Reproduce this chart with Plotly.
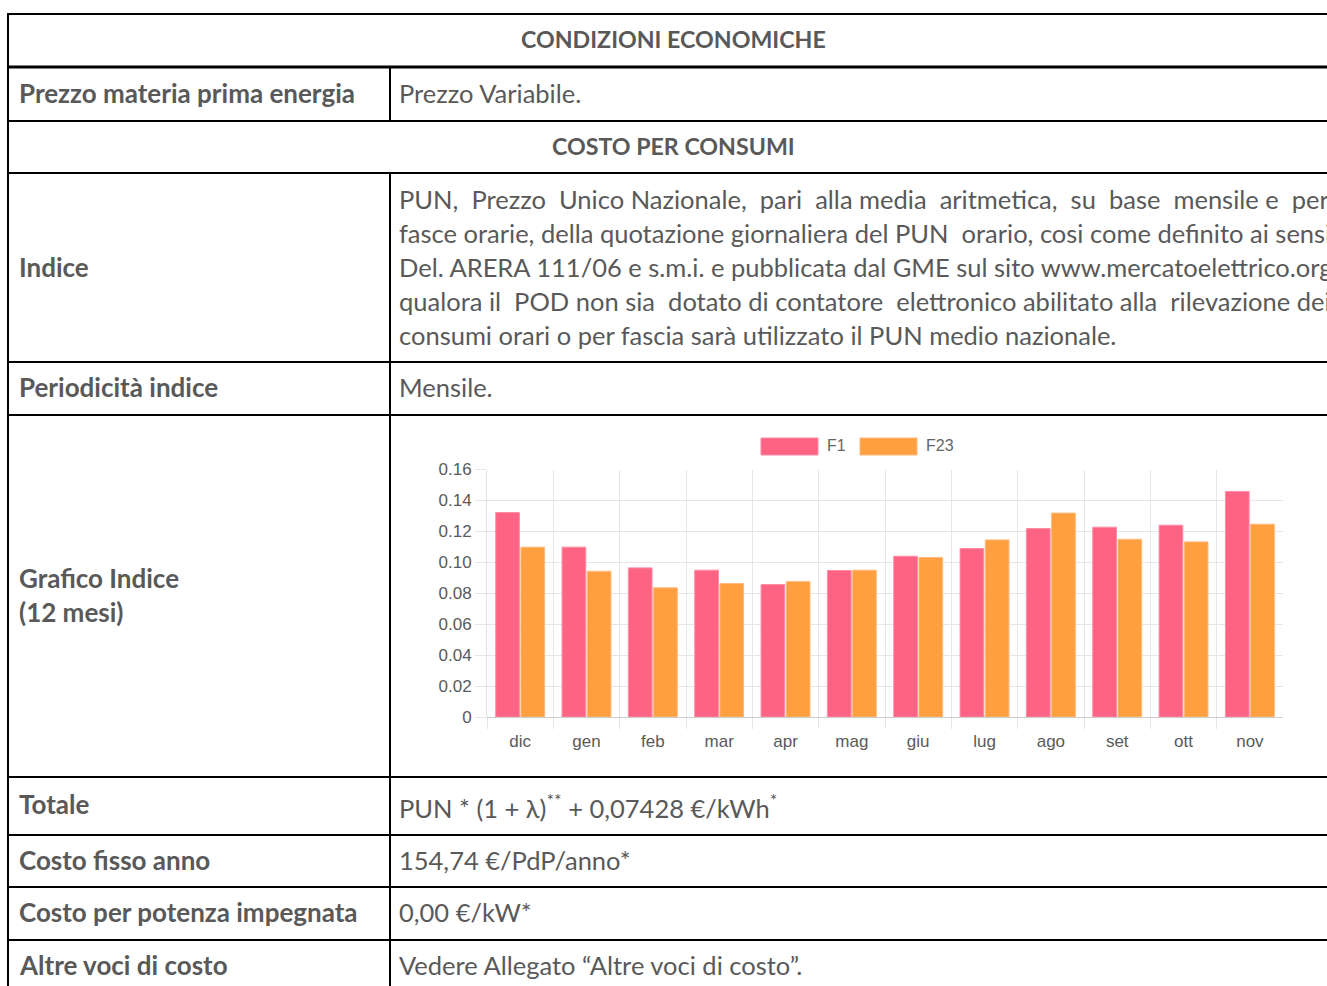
import plotly.graph_objects as go

# ---------------- data ----------------
months = ["dic", "gen", "feb", "mar", "apr", "mag", "giu", "lug", "ago", "set", "ott", "nov"]
f1 = [0.1322, 0.1098, 0.0964, 0.0949, 0.0856, 0.0947, 0.1039, 0.1089, 0.1218, 0.1227, 0.1240, 0.1458]
f23 = [0.1098, 0.0942, 0.0835, 0.0863, 0.0875, 0.0949, 0.1031, 0.1145, 0.1318, 0.1149, 0.1132, 0.1246]
y_tick_values = [0, 0.02, 0.04, 0.06, 0.08, 0.10, 0.12, 0.14, 0.16]
y_tick_labels = ["0", "0.02", "0.04", "0.06", "0.08", "0.10", "0.12", "0.14", "0.16"]
series_names = ["F1", "F23"]

indice_lines = [
    "PUN, Prezzo Unico Nazionale, pari alla media aritmetica, su base mensile e per",
    "fasce orarie, della quotazione giornaliera del PUN orario, cosi come definito ai sensi",
    "Del. ARERA 111/06 e s.m.i. e pubblicata dal GME sul sito www.mercatoelettrico.org;",
    "qualora il POD non sia dotato di contatore elettronico abilitato alla rilevazione dei",
    "consumi orari o per fascia sarà utilizzato il PUN medio nazionale.",
]
# extra non-breaking spaces used to imitate justified text
justify_extra = [9, 1, 0, 4, 0]

# ---------------- layout helpers ----------------
W, H = 1327, 986
def px(x):
    return x / W
def py(y):
    return 1 - y / H

PINK = "rgb(255,99,132)"
ORANGE = "rgb(255,159,64)"
TXT = "#595959"
TFONT = "Lato"
TSIZE = 25.5
BSIZE = 26
HSIZE = 23.2
CFONT = "Liberation Sans"
CCOL = "#5a5a5a"

def justify(line, extra):
    words = line.split(" ")
    gaps = len(words) - 1
    if gaps <= 0 or extra <= 0:
        return line
    out = words[0]
    prev = 0
    for i, w in enumerate(words[1:], start=1):
        target = round(extra * i / gaps)
        n = target - prev
        prev = target
        out += " " + "\u00a0" * n + w
    return out

fig = go.Figure()
fig.add_trace(go.Bar(x=months, y=f1, name=series_names[0],
                     marker=dict(color=PINK, line=dict(color="rgba(255,140,165,1)", width=1))))
fig.add_trace(go.Bar(x=months, y=f23, name=series_names[1],
                     marker=dict(color=ORANGE, line=dict(color="rgba(255,185,120,1)", width=1))))

shapes = []
def hline(y, x0=8, x1=1345, w=2):
    shapes.append(dict(type="line", xref="paper", yref="paper", x0=px(x0), x1=px(x1), y0=py(y), y1=py(y),
                       line=dict(color="black", width=w)))
def vline(x, y0, y1, w=2):
    shapes.append(dict(type="line", xref="paper", yref="paper", x0=px(x), x1=px(x), y0=py(y0), y1=py(y1),
                       line=dict(color="black", width=w)))

hline(14)
hline(67, w=3)
for yy in [121, 173, 362, 415, 777, 835, 887, 940]:
    hline(yy)
vline(8, 13, 1000)
vline(390, 67, 121)
vline(390, 173, 1000)

# custom legend swatches (Chart.js style)
shapes.append(dict(type="rect", xref="paper", yref="paper", x0=px(761), x1=px(818), y0=py(455), y1=py(438),
                   fillcolor=PINK, line=dict(color="rgba(255,140,165,1)", width=1)))
shapes.append(dict(type="rect", xref="paper", yref="paper", x0=px(860), x1=px(917), y0=py(455), y1=py(438),
                   fillcolor=ORANGE, line=dict(color="rgba(255,185,120,1)", width=1)))

annotations = []
def txt(x, y, s, bold=False, anchor="left", size=None, color=TXT, font=TFONT):
    if size is None:
        size = BSIZE if bold else TSIZE
    if bold:
        s = "<b>" + s + "</b>"
    annotations.append(dict(xref="paper", yref="paper", x=px(x), y=py(y), text=s, showarrow=False,
                            xanchor=anchor, yanchor="middle", font=dict(family=font, size=size, color=color)))

LX, RX = 17, 397
txt(673, 39, "CONDIZIONI ECONOMICHE", bold=True, anchor="center", size=HSIZE)
txt(LX, 93, "Prezzo materia prima energia", bold=True)
txt(RX, 93, "Prezzo Variabile.")
txt(673, 146, "COSTO PER CONSUMI", bold=True, anchor="center", size=HSIZE)
txt(LX, 267, "Indice", bold=True)
for i, line in enumerate(indice_lines):
    txt(RX, 199 + 34 * i, justify(line, justify_extra[i]))
txt(LX, 387, "Periodicità indice", bold=True)
txt(RX, 387, "Mensile.")
txt(LX, 578, "Grafico Indice", bold=True)
txt(LX, 612, "(12 mesi)", bold=True)
txt(LX, 804, "Totale", bold=True)
txt(RX, 806, "PUN * (1 + λ)<sup>**</sup> + 0,07428 €/kWh<sup>*</sup>")
txt(LX, 860, "Costo fisso anno", bold=True)
txt(RX, 860, "154,74 €/PdP/anno*")
txt(LX, 912, "Costo per potenza impegnata", bold=True)
txt(RX, 912, "0,00 €/kW*")
txt(LX, 965, "Altre voci di costo", bold=True)
txt(RX, 965, "Vedere Allegato “Altre voci di costo”.")

# legend labels
txt(825, 446, series_names[0], size=16, color="#666666", font=CFONT)
txt(924, 446, series_names[1], size=16, color="#666666", font=CFONT)

fig.update_layout(
    width=W, height=H, autosize=False,
    margin=dict(l=0, r=0, t=0, b=0, pad=0, autoexpand=False),
    paper_bgcolor="white", plot_bgcolor="white",
    showlegend=False,
    barmode="group", bargap=0.24, bargroupgap=0.06,
    shapes=shapes, annotations=annotations,
    xaxis=dict(domain=[px(487), px(1283)], type="category", tickson="boundaries",
               automargin=False,
               showgrid=True, gridcolor="#e6e6e6", gridwidth=1,
               ticks="outside", ticklen=11, tickcolor="#e6e6e6",
               showline=False, range=[-0.5, 11.499],
               ticklabelstandoff=12,
               tickfont=dict(family=CFONT, size=17, color=CCOL)),
    yaxis=dict(domain=[py(717), py(469.5)], range=[0, 0.16],
               automargin=False,
               tickvals=y_tick_values, ticktext=y_tick_labels,
               showgrid=True, gridcolor="#e6e6e6", gridwidth=1,
               ticks="outside", ticklen=11, tickcolor="#e6e6e6",
               showline=True, linecolor="#e0e0e0", linewidth=1,
               zeroline=True, zerolinecolor="#cccccc", zerolinewidth=1,
               tickfont=dict(family=CFONT, size=17, color=CCOL)),
)

fig.write_html("out.html", config={"displayModeBar": False},
               post_script="document.body.style.margin='0';document.body.style.overflow='hidden';")
